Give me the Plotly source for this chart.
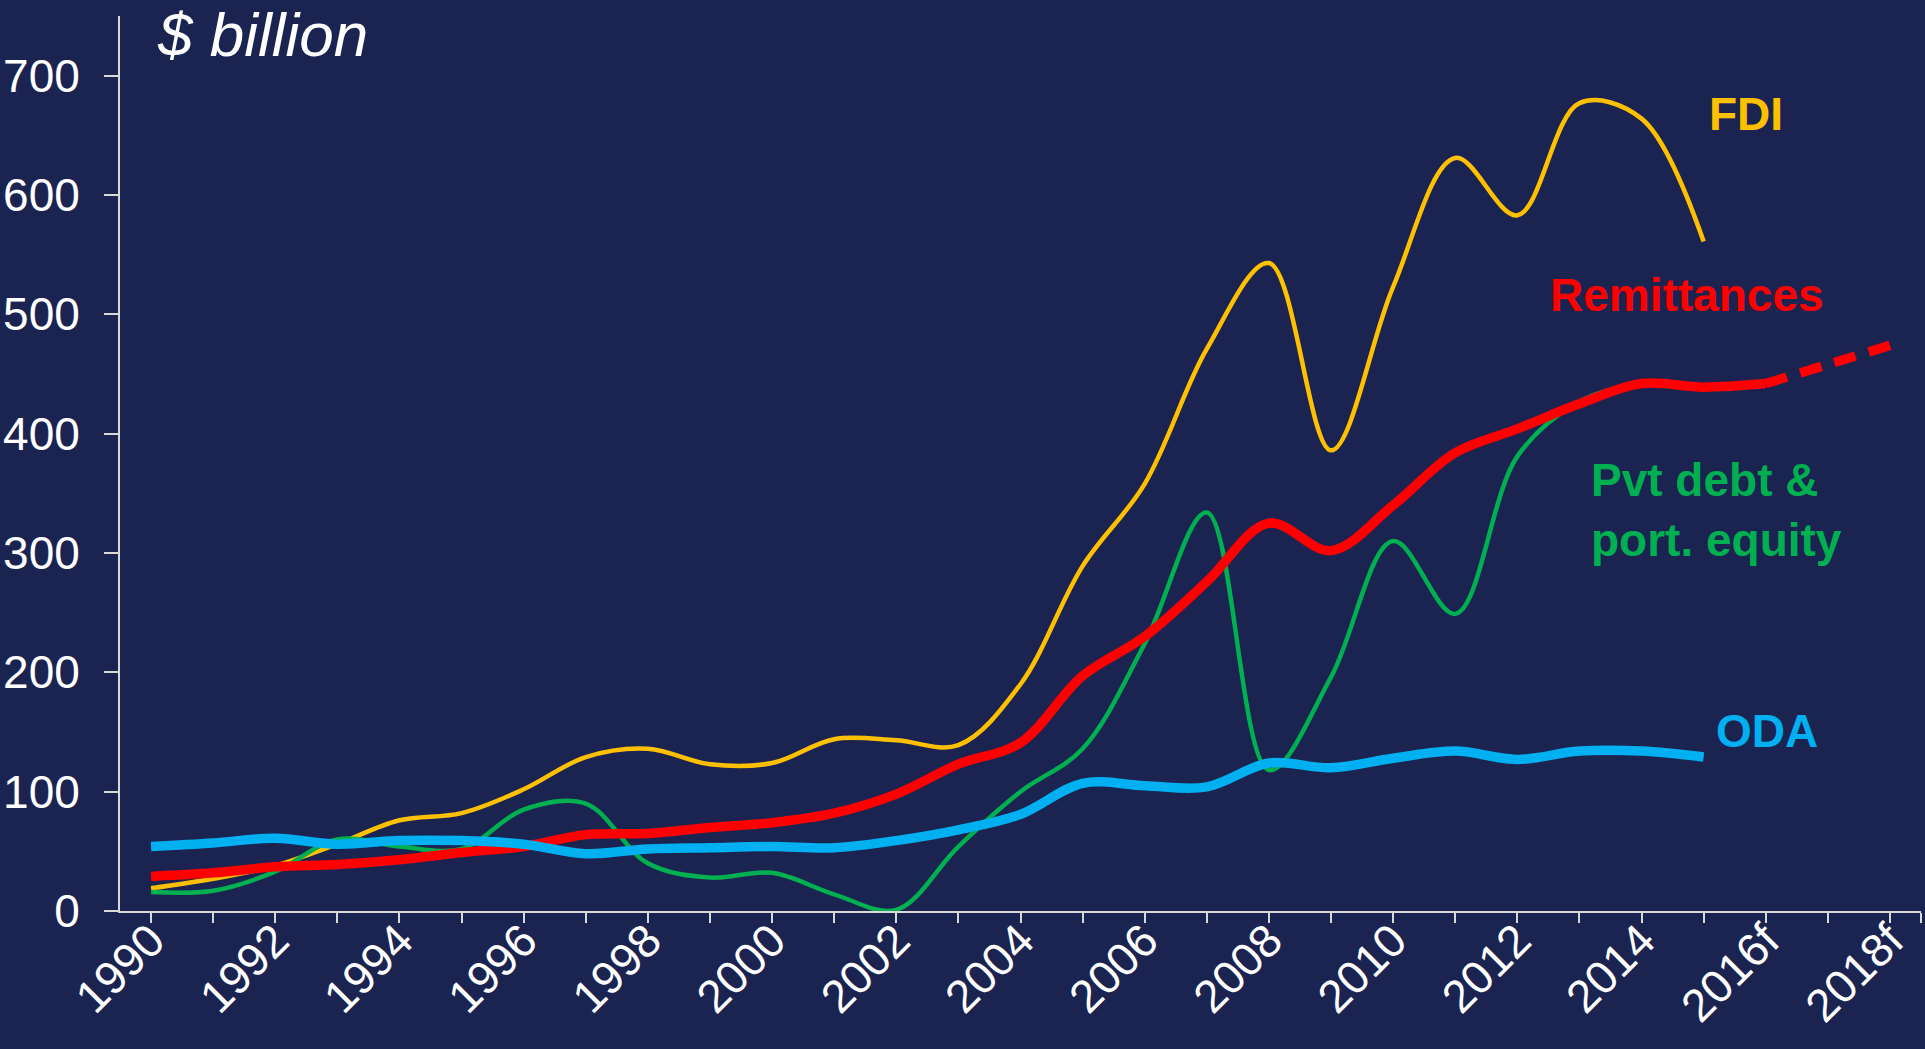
import plotly.graph_objects as go

years = list(range(1990, 2016))
tick_years = list(range(1990, 2019))
tick_text = [str(y) if y % 2 == 0 else "" for y in tick_years]
tick_text[-3] = "2016f"
tick_text[-1] = "2018f"

fdi = [19, 27, 38, 56, 76, 82, 102, 129, 136, 123, 124, 144, 143, 139, 190,
       289, 358, 471, 543, 386, 523, 631, 583, 677, 664, 561]
remit = [29, 32, 37, 39, 43, 49, 54, 64, 65, 70, 74, 82, 98, 123, 141,
         197, 230, 276, 325, 302, 340, 384, 404, 425, 442, 439, 442]
remit_fc_years = [2016, 2017, 2018]
remit_fc = [442, 458, 474]
pvt = [16, 17, 33, 60, 54, 52, 85, 90, 40, 28, 32, 14, 1, 54, 100,
       136, 224, 334, 118, 196, 310, 249, 381, 427, 443]
oda = [54, 57, 61, 56, 59, 59, 56, 48, 52, 53, 54, 53, 59, 68, 81,
       107, 105, 104, 124, 120, 128, 134, 127, 134, 134, 129]

bg = "#1B2451"
white = "#FFFFFF"
axis_col = "#D9D9D9"
font_fam = "Arial, Liberation Sans, sans-serif"

fig = go.Figure()
fig.add_trace(go.Scatter(x=years, y=fdi, mode="lines", line_shape="spline",
                         line=dict(color="#FFC000", width=4.5)))
fig.add_trace(go.Scatter(x=years[:len(pvt)], y=pvt, mode="lines", line_shape="spline",
                         line=dict(color="#00B050", width=4.5)))
fig.add_trace(go.Scatter(x=list(range(1990, 2017)), y=remit, mode="lines", line_shape="spline",
                         line=dict(color="#FF0000", width=9.5)))
fig.add_trace(go.Scatter(x=remit_fc_years, y=remit_fc, mode="lines", line_shape="spline",
                         line=dict(color="#FF0000", width=9.5, dash="22px,14px")))
fig.add_trace(go.Scatter(x=years, y=oda, mode="lines", line_shape="spline",
                         line=dict(color="#00B0F0", width=9.5)))

labels = [
    ("FDI", "#FFC000", 2015.05, 668),
    ("Remittances", "#FF0000", 2012.5, 516),
    ("Pvt debt &<br>port. equity", "#00B050", 2013.15, 336),
    ("ODA", "#00B0F0", 2015.16, 151),
]
for txt, col, xx, yy in labels:
    fig.add_annotation(x=xx, y=yy, xref="x", yref="y", text="<b>" + txt + "</b>",
                       showarrow=False, xanchor="left", yanchor="middle", align="left",
                       font=dict(family=font_fam, size=46, color=col))

fig.add_annotation(x=0.0194, y=0.979, xref="paper", yref="paper", text="<i>$ billion</i>",
                   showarrow=False, xanchor="left", yanchor="middle",
                   font=dict(family=font_fam, size=62, color=white))

fig.update_xaxes(range=[1989.5, 2018.5], tickvals=tick_years + [2018.5], ticktext=tick_text + [""],
                 tickangle=-45, ticks="outside", ticklen=10, tickwidth=2, tickcolor=axis_col,
                 showline=True, linecolor=axis_col, linewidth=2, showgrid=False, zeroline=False,
                 automargin=False, ticklabelstandoff=-28,
                 tickfont=dict(family=font_fam, size=46, color=white))
fig.update_yaxes(range=[0, 750], tickvals=[0, 100, 200, 300, 400, 500, 600, 700],
                 ticks="outside", ticklen=14, tickwidth=2, tickcolor=axis_col,
                 showline=True, linecolor=axis_col, linewidth=2, showgrid=False, zeroline=False,
                 ticklabelstandoff=15, automargin=False,
                 tickfont=dict(family=font_fam, size=46, color=white))
fig.update_layout(width=1925, height=1049, paper_bgcolor=bg, plot_bgcolor=bg,
                  showlegend=False, margin=dict(l=120, r=4, t=16, b=138))
# drop the page's default body margin so the chart fills the window
fig.write_html("out.html", config={"displayModeBar": False},
               post_script="document.body.style.margin='0';"
                           "document.body.style.background='" + bg + "';"
                           "document.body.style.overflow='hidden';")
